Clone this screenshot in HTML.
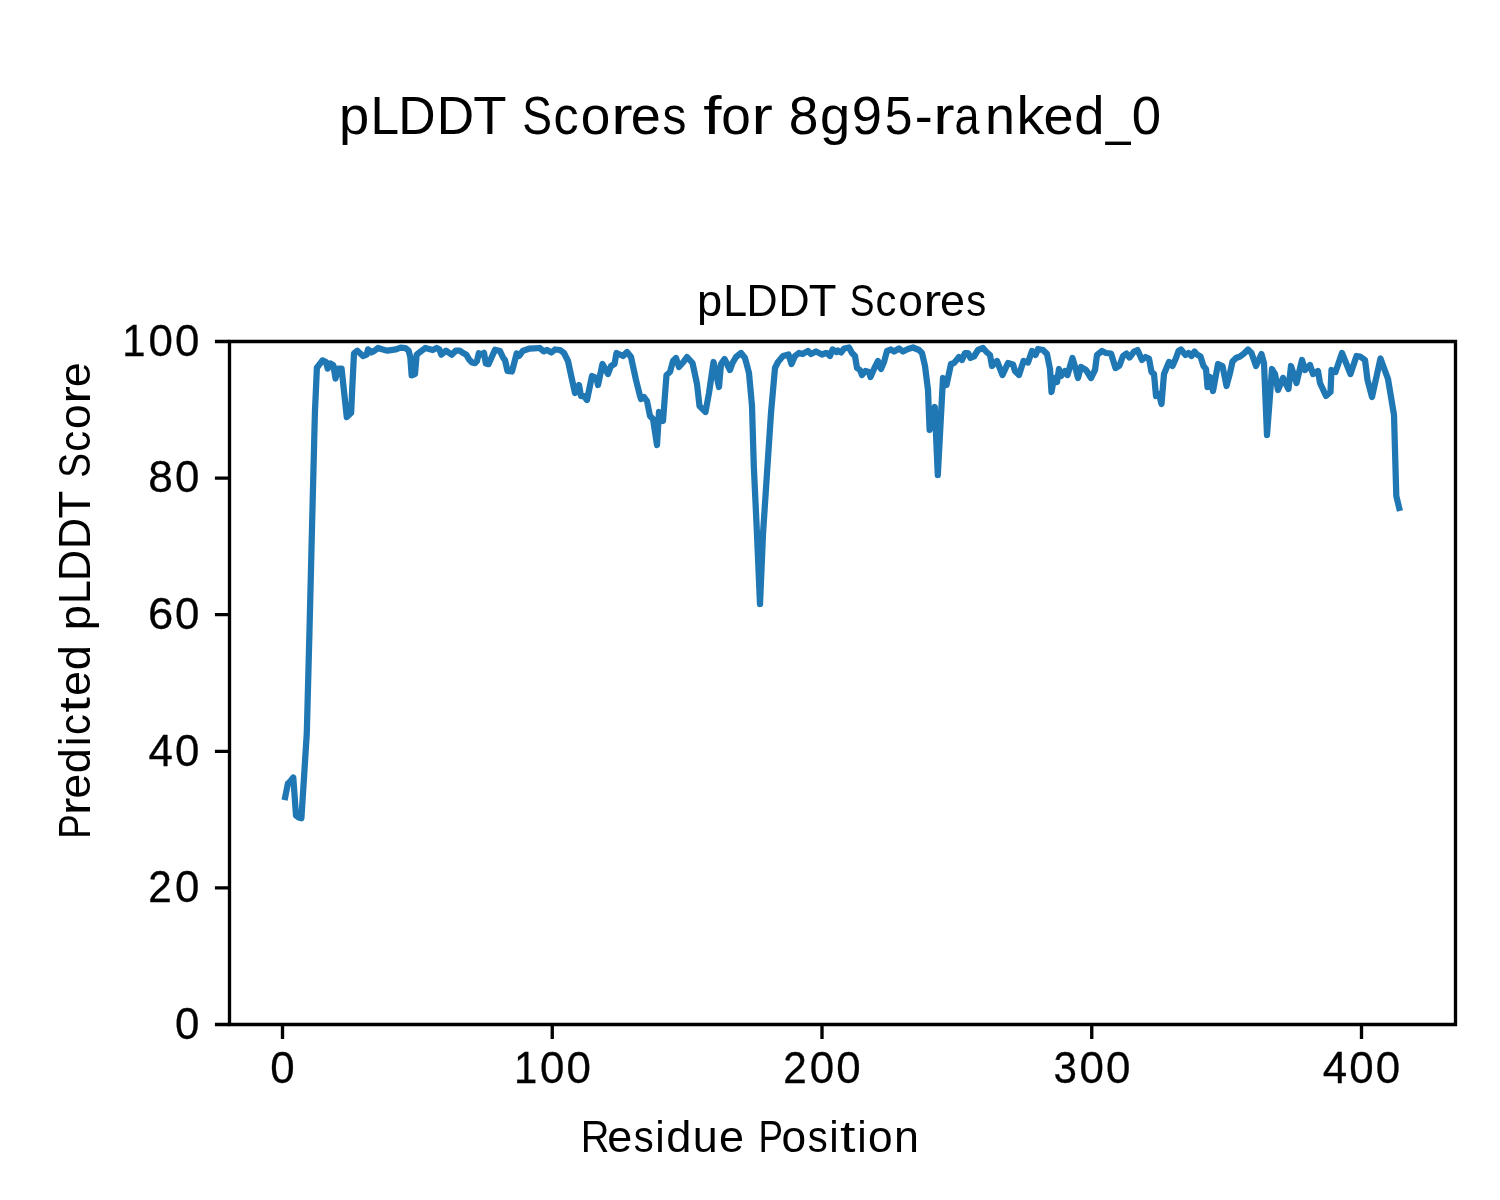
<!DOCTYPE html>
<html><head><meta charset="utf-8"><style>
html,body{margin:0;padding:0;background:#fff;width:1500px;height:1200px;overflow:hidden}
svg{display:block}
text{font-family:"Liberation Sans",sans-serif;fill:#000}
</style></head><body>
<svg width="1500" height="1200" viewBox="0 0 1500 1200">
<rect width="1500" height="1200" fill="#fff"/>
<polyline points="285.20,797.00 287.90,783.50 290.60,781.00 293.30,777.50 296.00,815.50 298.70,817.50 301.40,818.20 304.10,776.00 306.80,733.00 309.50,630.00 312.20,520.00 314.90,413.00 316.90,367.73 322.53,360.36 326.00,362.10 327.73,368.60 330.33,363.40 333.36,365.13 335.53,378.56 338.13,368.60 341.59,368.60 346.79,417.12 351.13,412.79 352.33,386.67 354.00,353.33 357.33,350.67 363.00,356.00 366.67,354.67 368.00,349.33 371.33,352.33 374.67,350.67 378.00,348.00 382.00,349.33 387.33,350.67 396.00,349.33 400.67,347.67 405.33,348.00 408.67,350.67 410.33,357.33 411.67,375.33 415.00,374.00 416.67,354.67 420.00,352.00 425.33,348.00 432.67,350.00 436.67,348.00 439.33,349.33 441.33,354.67 446.00,350.67 451.70,354.70 455.70,350.70 459.70,350.70 463.70,353.30 466.30,354.70 469.00,359.30 472.00,362.50 475.00,363.20 477.00,361.00 478.80,353.30 481.30,354.50 484.00,352.80 485.80,363.50 488.50,364.20 495.00,349.70 500.00,351.10 503.30,358.00 505.00,360.00 507.50,371.00 512.00,371.50 516.70,353.40 519.00,356.00 523.00,350.70 529.00,348.70 534.00,348.30 539.70,348.00 543.70,351.30 547.00,350.00 551.50,352.50 555.00,349.50 560.00,350.00 564.00,353.00 568.00,361.00 571.00,375.00 575.00,393.00 579.00,385.00 581.00,396.00 584.00,396.00 587.00,400.00 592.00,376.00 596.50,378.00 598.00,385.00 602.50,364.00 608.00,374.00 611.00,366.00 614.50,364.00 616.50,353.00 623.00,356.00 627.00,352.00 631.00,357.00 636.00,380.00 640.00,396.00 641.00,399.00 644.00,397.00 647.00,401.00 650.00,416.00 653.00,419.00 657.00,445.00 659.00,412.00 663.00,421.00 666.50,375.00 670.00,372.00 673.00,361.00 676.00,358.00 679.00,367.00 682.50,363.00 687.00,357.00 692.50,363.00 697.00,384.00 699.50,406.00 705.50,412.00 709.00,393.00 713.50,362.00 719.00,387.00 721.00,364.00 724.50,359.00 730.00,370.00 732.50,363.00 736.00,357.00 741.00,353.00 745.00,358.00 749.00,373.00 752.00,406.00 753.80,466.00 756.80,530.00 760.00,604.00 763.00,534.00 768.00,458.00 771.00,413.00 775.00,368.00 778.00,362.00 783.00,356.00 788.50,354.50 791.50,364.00 795.00,356.00 799.00,353.00 802.50,354.00 808.00,351.00 811.00,354.00 816.00,351.50 822.00,354.50 826.00,353.00 827.00,353.00 830.00,356.00 832.50,349.50 836.50,352.00 838.00,350.50 841.00,352.50 844.00,348.50 849.00,347.50 852.00,353.00 855.00,356.00 857.00,368.00 860.00,370.00 862.00,375.00 865.50,371.00 869.00,372.00 870.50,377.00 874.00,369.00 878.00,361.00 881.00,369.00 884.00,362.00 887.00,351.00 891.00,349.50 894.00,351.50 899.00,348.50 903.00,351.50 908.00,349.00 913.00,347.50 919.00,350.00 922.00,353.00 925.00,366.00 928.00,390.00 929.60,430.00 934.80,407.00 937.80,475.00 943.00,378.00 946.50,385.00 951.00,364.00 954.00,363.00 959.00,357.00 962.00,360.00 965.00,353.00 968.00,353.00 970.50,358.00 974.00,356.50 978.00,350.00 983.00,348.00 986.50,352.00 990.00,355.00 992.00,366.00 997.00,361.00 1002.50,375.00 1008.00,363.00 1013.00,364.50 1015.00,371.00 1019.00,375.00 1023.50,361.00 1028.00,362.50 1032.00,351.00 1035.50,355.00 1038.00,349.00 1043.00,350.00 1047.00,354.00 1050.00,369.00 1051.50,392.00 1054.00,378.00 1057.00,382.00 1059.00,369.00 1061.00,376.00 1065.00,371.00 1067.50,375.00 1072.50,358.00 1076.00,370.00 1078.00,378.00 1081.00,367.00 1086.00,370.00 1091.00,378.00 1095.00,370.00 1097.00,355.00 1102.00,351.00 1106.00,353.00 1111.00,353.50 1115.50,368.00 1119.50,365.50 1123.00,356.00 1126.50,353.50 1129.50,357.50 1134.00,351.50 1137.50,350.00 1142.00,360.00 1145.50,357.00 1149.00,358.50 1151.50,372.00 1154.00,374.00 1156.00,396.00 1159.00,394.00 1161.50,404.00 1164.00,374.00 1169.00,362.00 1172.50,366.00 1176.00,358.00 1178.50,351.00 1181.00,349.50 1185.50,355.00 1188.50,353.00 1191.50,356.00 1194.50,351.50 1197.00,354.50 1200.50,356.50 1203.50,366.00 1206.00,369.00 1207.50,387.00 1210.00,377.00 1213.00,391.00 1218.00,364.00 1222.50,366.00 1226.50,386.00 1230.00,373.00 1232.50,361.50 1236.00,358.00 1240.00,356.50 1244.00,353.50 1248.00,349.50 1251.50,353.00 1256.00,366.00 1261.50,354.00 1264.00,363.00 1267.00,435.00 1272.00,369.00 1275.00,374.00 1278.00,390.00 1283.00,378.00 1288.50,389.00 1291.00,366.00 1296.50,383.00 1302.00,360.00 1305.00,370.00 1310.00,365.00 1313.00,374.00 1318.00,371.00 1320.00,383.00 1326.00,396.00 1330.50,392.00 1331.50,370.00 1335.50,372.00 1342.00,353.00 1350.50,374.00 1356.50,356.00 1360.00,356.50 1365.00,360.00 1367.50,380.00 1372.00,397.00 1380.50,358.50 1388.00,379.00 1394.00,415.00 1396.30,496.00 1399.20,508.00" fill="none" stroke="#1f77b4" stroke-width="6.25" stroke-linejoin="round" stroke-linecap="square"/>
<path d="M214.92 1024.50H229.50 M214.92 887.90H229.50 M214.92 751.30H229.50 M214.92 614.70H229.50 M214.92 478.10H229.50 M214.92 341.50H229.50 M282.50 1024.50V1039.08 M552.25 1024.50V1039.08 M822.00 1024.50V1039.08 M1091.75 1024.50V1039.08 M1361.50 1024.50V1039.08" stroke="#000" stroke-width="3.333" fill="none" stroke-linecap="butt"/>
<path d="M229.5 1024.5V341.5M1455.5 1024.5V341.5M229.5 1024.5H1455.5M229.5 341.5H1455.5" stroke="#000" stroke-width="3.333" fill="none" stroke-linecap="square"/>
<g opacity="0.999">
<text transform="translate(339.05 134.20) scale(1.0263 1)" font-size="52.98">p</text>
<text transform="translate(370.43 134.20) scale(0.9712 1)" font-size="52.98">L</text>
<text transform="translate(398.27 134.20) scale(0.9765 1)" font-size="52.98">D</text>
<text transform="translate(436.77 134.20) scale(0.9765 1)" font-size="52.98">D</text>
<text transform="translate(473.24 134.20) scale(1.0291 1)" font-size="52.98">T</text>
<text transform="translate(522.31 134.20) scale(0.8412 1)" font-size="52.98">S</text>
<text transform="translate(553.41 134.20) scale(0.9467 1)" font-size="52.98">c</text>
<text transform="translate(580.80 134.20) scale(1.0031 1)" font-size="52.98">o</text>
<text transform="translate(611.15 134.20) scale(1.2092 1)" font-size="52.98">r</text>
<text transform="translate(630.76 134.20) scale(1.0194 1)" font-size="52.98">e</text>
<text transform="translate(662.44 134.20) scale(0.9043 1)" font-size="52.98">s</text>
<text transform="translate(703.22 134.20) scale(1.2391 1)" font-size="52.98">f</text>
<text transform="translate(721.13 134.20) scale(1.0031 1)" font-size="52.98">o</text>
<text transform="translate(751.48 134.20) scale(1.2092 1)" font-size="52.98">r</text>
<text transform="translate(788.71 134.20) scale(1.0056 1)" font-size="52.98">8</text>
<text transform="translate(819.93 134.20) scale(1.0257 1)" font-size="52.98">g</text>
<text transform="translate(851.79 134.20) scale(1.0273 1)" font-size="52.98">9</text>
<text transform="translate(884.87 134.20) scale(0.9387 1)" font-size="52.98">5</text>
<text transform="translate(914.85 134.20) scale(1.0183 1)" font-size="52.98">-</text>
<text transform="translate(933.15 134.20) scale(1.2092 1)" font-size="52.98">r</text>
<text transform="translate(954.50 134.20) scale(0.8486 1)" font-size="52.98">a</text>
<text transform="translate(985.02 134.20) scale(1.0171 1)" font-size="52.98">n</text>
<text transform="translate(1016.52 134.20) scale(1.0551 1)" font-size="52.98">k</text>
<text transform="translate(1043.42 134.20) scale(1.0194 1)" font-size="52.98">e</text>
<text transform="translate(1074.19 134.20) scale(1.0257 1)" font-size="52.98">d</text>
<text transform="translate(1105.64 134.20) scale(0.8415 1)" font-size="52.98">_</text>
<text transform="translate(1131.68 134.20) scale(0.9952 1)" font-size="52.98">0</text>
<text transform="translate(697.10 316.10) scale(1.0254 1)" font-size="44.15">p</text>
<text transform="translate(723.24 316.10) scale(0.9696 1)" font-size="44.15">L</text>
<text transform="translate(746.41 316.10) scale(0.9752 1)" font-size="44.15">D</text>
<text transform="translate(778.46 316.10) scale(0.9752 1)" font-size="44.15">D</text>
<text transform="translate(808.80 316.10) scale(1.0284 1)" font-size="44.15">T</text>
<text transform="translate(849.67 316.10) scale(0.8404 1)" font-size="44.15">S</text>
<text transform="translate(875.55 316.10) scale(0.9464 1)" font-size="44.15">c</text>
<text transform="translate(898.35 316.10) scale(1.0021 1)" font-size="44.15">o</text>
<text transform="translate(923.62 316.10) scale(1.2075 1)" font-size="44.15">r</text>
<text transform="translate(940.01 316.10) scale(1.0182 1)" font-size="44.15">e</text>
<text transform="translate(966.37 316.10) scale(0.9042 1)" font-size="44.15">s</text>
<text transform="translate(580.75 1152.00) scale(0.9012 1)" font-size="44.15">R</text>
<text transform="translate(607.35 1152.00) scale(1.0182 1)" font-size="44.15">e</text>
<text transform="translate(633.71 1152.00) scale(0.9042 1)" font-size="44.15">s</text>
<text transform="translate(655.34 1152.00) scale(0.9624 1)" font-size="44.15">i</text>
<text transform="translate(666.22 1152.00) scale(1.0246 1)" font-size="44.15">d</text>
<text transform="translate(692.86 1152.00) scale(1.0172 1)" font-size="44.15">u</text>
<text transform="translate(719.02 1152.00) scale(1.0182 1)" font-size="44.15">e</text>
<text transform="translate(758.55 1152.00) scale(0.8332 1)" font-size="44.15">P</text>
<text transform="translate(781.51 1152.00) scale(1.0021 1)" font-size="44.15">o</text>
<text transform="translate(807.68 1152.00) scale(0.9042 1)" font-size="44.15">s</text>
<text transform="translate(829.31 1152.00) scale(0.9624 1)" font-size="44.15">i</text>
<text transform="translate(840.07 1152.00) scale(1.2597 1)" font-size="44.15">t</text>
<text transform="translate(857.19 1152.00) scale(0.9624 1)" font-size="44.15">i</text>
<text transform="translate(868.11 1152.00) scale(1.0021 1)" font-size="44.15">o</text>
<text transform="translate(893.94 1152.00) scale(1.0164 1)" font-size="44.15">n</text>
<text transform="translate(90.00 838.69) rotate(-90) scale(0.8332 1)" font-size="44.15">P</text>
<text transform="translate(90.00 815.17) rotate(-90) scale(1.2075 1)" font-size="44.15">r</text>
<text transform="translate(90.00 798.79) rotate(-90) scale(1.0182 1)" font-size="44.15">e</text>
<text transform="translate(90.00 773.17) rotate(-90) scale(1.0246 1)" font-size="44.15">d</text>
<text transform="translate(90.00 746.06) rotate(-90) scale(0.9624 1)" font-size="44.15">i</text>
<text transform="translate(90.00 735.06) rotate(-90) scale(0.9464 1)" font-size="44.15">c</text>
<text transform="translate(90.00 712.41) rotate(-90) scale(1.2597 1)" font-size="44.15">t</text>
<text transform="translate(90.00 695.98) rotate(-90) scale(1.0182 1)" font-size="44.15">e</text>
<text transform="translate(90.00 670.36) rotate(-90) scale(1.0246 1)" font-size="44.15">d</text>
<text transform="translate(90.00 630.25) rotate(-90) scale(1.0254 1)" font-size="44.15">p</text>
<text transform="translate(90.00 604.10) rotate(-90) scale(0.9696 1)" font-size="44.15">L</text>
<text transform="translate(90.00 580.93) rotate(-90) scale(0.9752 1)" font-size="44.15">D</text>
<text transform="translate(90.00 548.88) rotate(-90) scale(0.9752 1)" font-size="44.15">D</text>
<text transform="translate(90.00 518.54) rotate(-90) scale(1.0284 1)" font-size="44.15">T</text>
<text transform="translate(90.00 477.67) rotate(-90) scale(0.8404 1)" font-size="44.15">S</text>
<text transform="translate(90.00 451.79) rotate(-90) scale(0.9464 1)" font-size="44.15">c</text>
<text transform="translate(90.00 428.99) rotate(-90) scale(1.0021 1)" font-size="44.15">o</text>
<text transform="translate(90.00 403.72) rotate(-90) scale(1.2075 1)" font-size="44.15">r</text>
<text transform="translate(90.00 387.33) rotate(-90) scale(1.0182 1)" font-size="44.15">e</text>
<text transform="translate(174.89 1038.80) scale(0.9935 1)" font-size="44.15" stroke="#000" stroke-width="0.3">0</text>
<text transform="translate(148.29 902.20) scale(0.9579 1)" font-size="44.15" stroke="#000" stroke-width="0.3">2</text>
<text transform="translate(174.89 902.20) scale(0.9935 1)" font-size="44.15" stroke="#000" stroke-width="0.3">0</text>
<text transform="translate(148.39 765.60) scale(0.9938 1)" font-size="44.15" stroke="#000" stroke-width="0.3">4</text>
<text transform="translate(174.89 765.60) scale(0.9935 1)" font-size="44.15" stroke="#000" stroke-width="0.3">0</text>
<text transform="translate(147.97 629.00) scale(1.0285 1)" font-size="44.15" stroke="#000" stroke-width="0.3">6</text>
<text transform="translate(174.89 629.00) scale(0.9935 1)" font-size="44.15" stroke="#000" stroke-width="0.3">0</text>
<text transform="translate(148.27 492.40) scale(1.0046 1)" font-size="44.15" stroke="#000" stroke-width="0.3">8</text>
<text transform="translate(174.89 492.40) scale(0.9935 1)" font-size="44.15" stroke="#000" stroke-width="0.3">0</text>
<text transform="translate(122.27 355.80) scale(0.9489 1)" font-size="44.15" stroke="#000" stroke-width="0.3">1</text>
<text transform="translate(148.40 355.80) scale(0.9935 1)" font-size="44.15" stroke="#000" stroke-width="0.3">0</text>
<text transform="translate(174.89 355.80) scale(0.9935 1)" font-size="44.15" stroke="#000" stroke-width="0.3">0</text>
<text transform="translate(270.29 1083.00) scale(0.9935 1)" font-size="44.15" stroke="#000" stroke-width="0.3">0</text>
<text transform="translate(513.91 1083.00) scale(0.9489 1)" font-size="44.15" stroke="#000" stroke-width="0.3">1</text>
<text transform="translate(540.04 1083.00) scale(0.9935 1)" font-size="44.15" stroke="#000" stroke-width="0.3">0</text>
<text transform="translate(566.53 1083.00) scale(0.9935 1)" font-size="44.15" stroke="#000" stroke-width="0.3">0</text>
<text transform="translate(783.20 1083.00) scale(0.9579 1)" font-size="44.15" stroke="#000" stroke-width="0.3">2</text>
<text transform="translate(809.79 1083.00) scale(0.9935 1)" font-size="44.15" stroke="#000" stroke-width="0.3">0</text>
<text transform="translate(836.28 1083.00) scale(0.9935 1)" font-size="44.15" stroke="#000" stroke-width="0.3">0</text>
<text transform="translate(1053.59 1083.00) scale(0.9547 1)" font-size="44.15" stroke="#000" stroke-width="0.3">3</text>
<text transform="translate(1079.54 1083.00) scale(0.9935 1)" font-size="44.15" stroke="#000" stroke-width="0.3">0</text>
<text transform="translate(1106.03 1083.00) scale(0.9935 1)" font-size="44.15" stroke="#000" stroke-width="0.3">0</text>
<text transform="translate(1322.80 1083.00) scale(0.9938 1)" font-size="44.15" stroke="#000" stroke-width="0.3">4</text>
<text transform="translate(1349.29 1083.00) scale(0.9935 1)" font-size="44.15" stroke="#000" stroke-width="0.3">0</text>
<text transform="translate(1375.78 1083.00) scale(0.9935 1)" font-size="44.15" stroke="#000" stroke-width="0.3">0</text>
</g>
</svg>
</body></html>
